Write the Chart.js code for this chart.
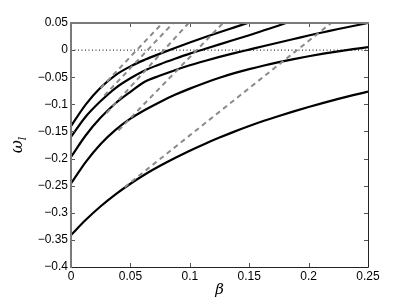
<!DOCTYPE html>
<html>
<head>
<meta charset="utf-8">
<script src="https://cdn.jsdelivr.net/npm/chart.js@4"></script>
<style>
  body { margin: 0; background: #fff; }
  #wrap { width: 407px; height: 306px; }
</style>
</head>
<body>
<div id="wrap"><canvas id="myChart" width="407" height="306"></canvas></div>
<script>
// beta grid shared by the solid curves
var betas = [0, 0.0125, 0.025, 0.0375, 0.05, 0.0625, 0.075, 0.0875, 0.1, 0.1125, 0.125, 0.1375, 0.15,
             0.1625, 0.175, 0.1875, 0.2, 0.2125, 0.225, 0.2375, 0.25];
// omega_l of each solid curve (null = past the top)
var curve1 = [-0.140, -0.100, -0.069, -0.046, -0.030, -0.0175, -0.0065, 0.004, 0.014, 0.0237, 0.033, 0.042, 0.051,
              null, null, null, null, null, null, null, null];
var curve2 = [-0.160, -0.1225, -0.094, -0.070, -0.052, -0.037, -0.026, -0.016, -0.0065, 0.002, 0.0105, 0.019, 0.0275,
              0.0365, 0.0455, 0.055, null, null, null, null, null];
var curve3 = [-0.197, -0.157, -0.1245, -0.098, -0.077, -0.058, -0.047, -0.037, -0.028, -0.020, -0.0125, -0.0055, 0.001,
              0.0075, 0.014, 0.0205, 0.027, 0.033, 0.039, 0.0445, 0.050];
var curve4 = [-0.246, -0.206, -0.173, -0.147, -0.1265, -0.110, -0.0955, -0.0825, -0.071, -0.0605, -0.051, -0.0425, -0.035,
              -0.0283, -0.0222, -0.0166, -0.0114, -0.0066, -0.0022, 0.0018, 0.0055];
var curve5 = [-0.341, -0.313, -0.288, -0.266, -0.2465, -0.229, -0.2134, -0.199, -0.1855, -0.173, -0.1613, -0.1503, -0.140,
              -0.1304, -0.1214, -0.1129, -0.1049, -0.0973, -0.0900, -0.0831, -0.0766];

// grey dashed straight lines: start and end points
var dashStartBeta  = [0.025, 0.028, 0.030, 0.040, 0.045];
var dashStartOmega = [-0.070, -0.084, -0.116, -0.148, -0.253];
var dashEndBeta    = [0.077, 0.086, 0.099, 0.128, 0.219];
var dashEndOmega   = [0.05, 0.05, 0.05, 0.05, 0.05];

var xTicks = [0, 0.05, 0.1, 0.15, 0.2, 0.25];
var yTicks = [0.05, 0, -0.05, -0.1, -0.15, -0.2, -0.25, -0.3, -0.35, -0.4];

function fmt(v) {
    var r = Math.round(v * 100) / 100;
    if (r === 0) return '0';
    return (r < 0 ? '\u2212' : '') + String(Math.abs(r));
}

var datasets = [];
for (var i = 0; i < dashStartBeta.length; i++) {
    datasets.push({
        data: [{x: dashStartBeta[i], y: dashStartOmega[i]}, {x: dashEndBeta[i], y: dashEndOmega[i]}],
        borderColor: '#8a8a8a',
        borderWidth: 2,
        borderDash: [5, 4],
        pointRadius: 0
    });
}
datasets.push({
    data: [{x: 0, y: 0}, {x: 0.25, y: 0}],
    borderColor: '#000',
    borderWidth: 1,
    borderDash: [1, 2.5],
    pointRadius: 0
});
var curves = [curve1, curve2, curve3, curve4, curve5];
curves.forEach(function (c) {
    datasets.push({
        data: betas.map(function (b, k) { return {x: b, y: c[k]}; }),
        borderColor: '#000',
        borderWidth: 2.2,
        pointRadius: 0,
        cubicInterpolationMode: 'monotone',
        spanGaps: false
    });
});

// matlab style box with inward ticks, plus the omega_l label
var boxPlugin = {
    id: 'box',
    afterDraw: function (chart) {
        var ctx = chart.ctx;
        var a = chart.chartArea;
        var xs = chart.scales.x, ys = chart.scales.y;
        ctx.save();
        ctx.lineWidth = 1;
        ctx.strokeStyle = '#555';
        ctx.beginPath();
        xTicks.forEach(function (v) {
            var px = Math.round(xs.getPixelForValue(v)) + 0.5;
            ctx.moveTo(px, a.bottom); ctx.lineTo(px, a.bottom - 4);
            ctx.moveTo(px, a.top); ctx.lineTo(px, a.top + 4);
        });
        yTicks.forEach(function (v) {
            var py = Math.round(ys.getPixelForValue(v)) + 0.5;
            ctx.moveTo(a.left, py); ctx.lineTo(a.left + 4, py);
            ctx.moveTo(a.right, py); ctx.lineTo(a.right - 4, py);
        });
        ctx.stroke();
        ctx.strokeStyle = '#222';
        ctx.beginPath();
        ctx.moveTo(a.left, a.bottom + 0.5); ctx.lineTo(a.right + 0.5, a.bottom + 0.5);
        ctx.lineTo(a.right + 0.5, a.top);
        ctx.stroke();
        ctx.strokeStyle = '#7a7a7a';
        ctx.lineWidth = 2;
        ctx.beginPath();
        ctx.moveTo(a.left, a.bottom + 1); ctx.lineTo(a.left, a.top);
        ctx.lineTo(a.right + 1, a.top);
        ctx.stroke();

        // y axis title: omega with subscript l
        ctx.translate(22, (a.top + a.bottom) / 2);
        ctx.rotate(-Math.PI / 2);
        ctx.fillStyle = '#000';
        ctx.textBaseline = 'alphabetic';
        ctx.textAlign = 'left';
        ctx.font = 'italic 16px "DejaVu Serif"';
        var w = ctx.measureText('\u03c9').width;
        var w2;
        ctx.font = 'italic 11px "DejaVu Serif"';
        w2 = ctx.measureText('l').width;
        var x0 = -(w + w2) / 2;
        ctx.font = 'italic 16px "DejaVu Serif"';
        ctx.fillText('\u03c9', x0, 0);
        ctx.font = 'italic 11px "DejaVu Serif"';
        ctx.fillText('l', x0 + w, 4);
        ctx.restore();
    }
};

var myChart = new Chart(document.getElementById('myChart').getContext('2d'), {
    type: 'line',
    data: { datasets: datasets },
    options: {
        responsive: false,
        animation: false,
        layout: { padding: { left: 0, top: 23, right: 39, bottom: 0 } },
        plugins: { legend: { display: false }, tooltip: { enabled: false } },
        scales: {
            x: {
                type: 'linear', min: 0, max: 0.25,
                afterFit: function (s) { s.height = 39; },
                afterBuildTicks: function (s) { s.ticks = xTicks.map(function (v) { return {value: v}; }); },
                grid: { display: false, drawTicks: false },
                border: { display: false },
                ticks: { padding: 2, color: '#000', maxRotation: 0, font: { family: 'Liberation Sans', size: 12 }, callback: fmt },
                title: { display: true, text: '\u03b2', color: '#000', padding: { top: 0, bottom: 7 },
                         font: { family: 'DejaVu Serif', size: 15, style: 'italic' } }
            },
            y: {
                type: 'linear', min: -0.4, max: 0.05,
                afterFit: function (s) { s.width = 71; },
                afterBuildTicks: function (s) { s.ticks = yTicks.map(function (v) { return {value: v}; }); },
                grid: { display: false, drawTicks: false },
                border: { display: false },
                ticks: { padding: 3, color: '#000', font: { family: 'Liberation Sans', size: 12 }, callback: fmt },
                title: { display: false }
            }
        }
    },
    plugins: [boxPlugin]
});
</script>
</body>
</html>
